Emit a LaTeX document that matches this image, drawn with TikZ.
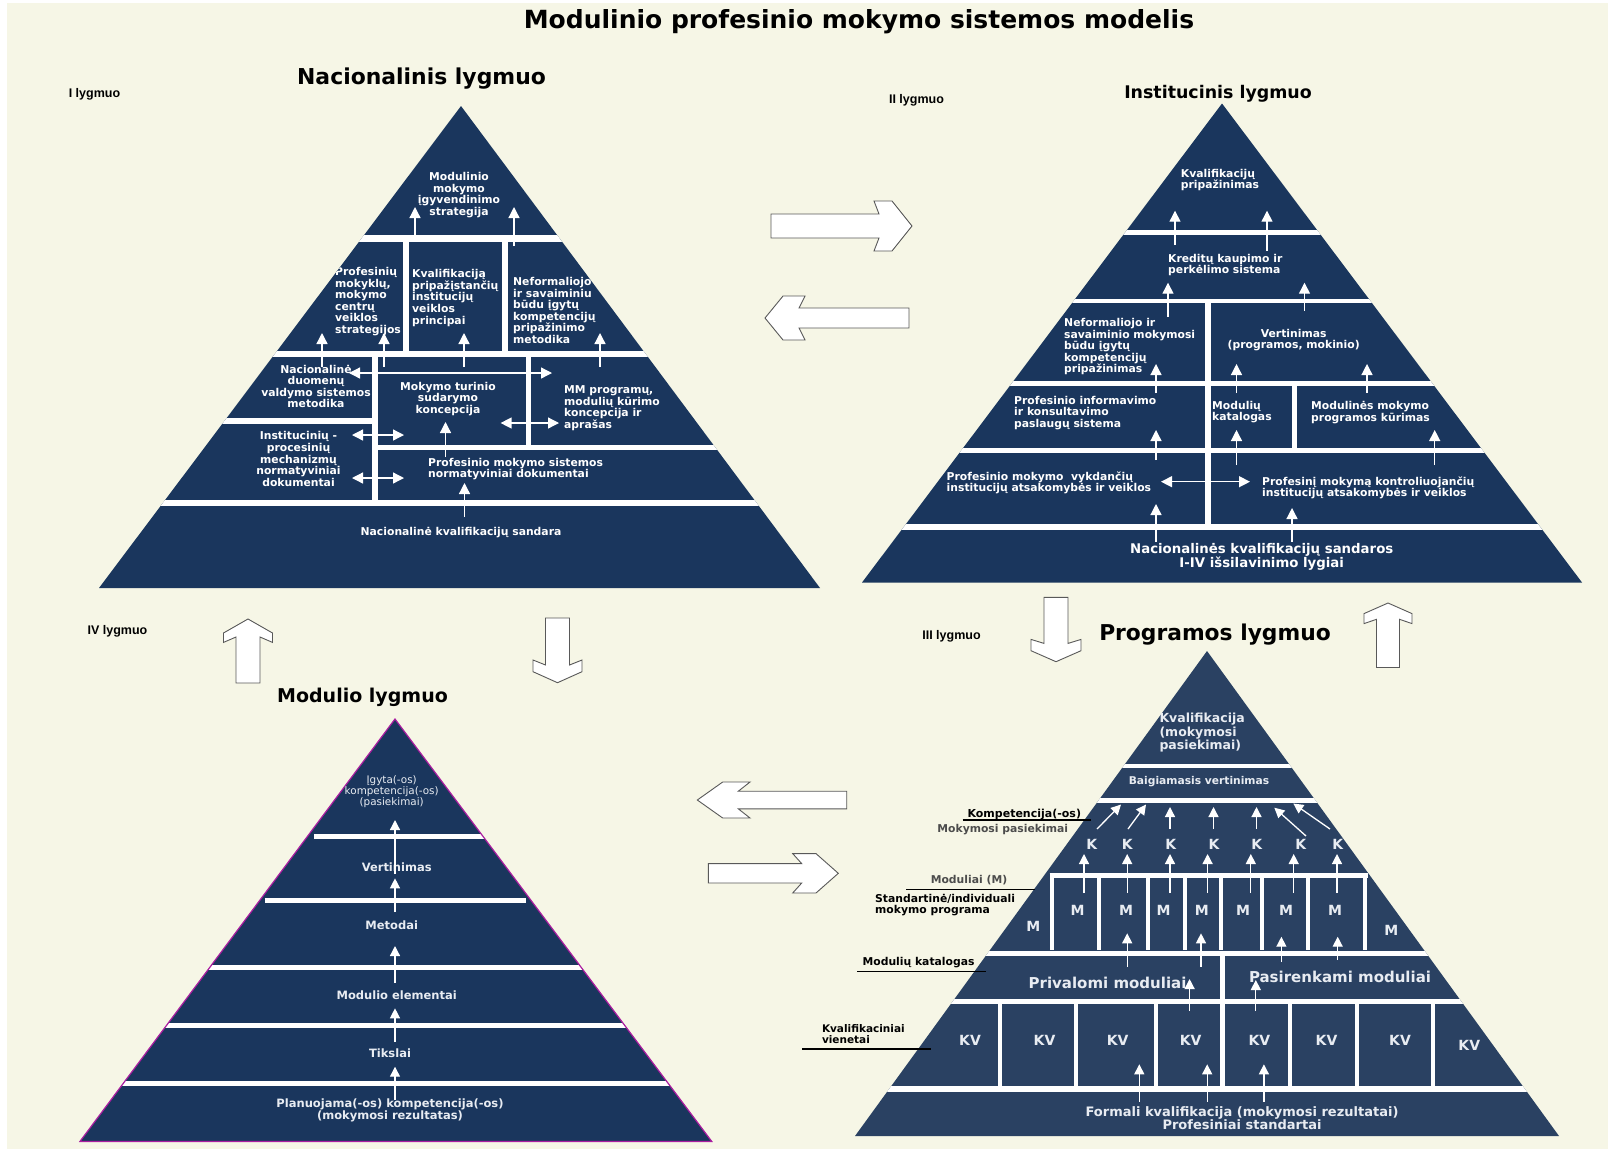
\documentclass[tikz,border=0pt]{standalone}
\usepackage{fontspec}
\setmainfont{DejaVu Sans}
\newfontfamily\labfont{Liberation Sans}
\usetikzlibrary{arrows.meta}

\definecolor{cream}{RGB}{246,246,230}
\definecolor{navy}{RGB}{26,54,93}
\definecolor{slate}{RGB}{42,65,98}
\definecolor{pale}{RGB}{232,236,242}
\definecolor{pyredge}{RGB}{170,30,160}

\tikzset{
  ptext/.style={text=white,inner sep=0pt,font=\bfseries\fontsize{10.8}{11.6}\selectfont},
  ltext/.style={ptext,align=left,anchor=west},
  ctext/.style={ptext,align=center},
  mtext/.style={text=pale,inner sep=0pt,align=center,font=\bfseries\fontsize{11.5}{12.4}\selectfont},
  blab/.style={inner sep=0pt,align=left,font=\bfseries\fontsize{10.8}{11}\selectfont},
  head/.style={inner sep=0pt,font=\bfseries\fontsize{#1}{#1}\selectfont},
  lvl/.style={inner sep=0pt,font=\labfont\bfseries\fontsize{12.5}{14}\selectfont},
  wbar/.style={white,line width=#1},
  wbar/.default=5pt,
  warr/.style={white,line width=1.3pt,-{Triangle[width=11pt,length=11pt]}},
  wdarr/.style={white,line width=1.3pt,{Triangle[width=11pt,length=11pt]}-{Triangle[width=11pt,length=11pt]}},
  parr/.style={white,line width=1.3pt,-{Triangle[width=10pt,length=10pt]}},
  bigarr/.style={fill=white,draw=black!65,line width=0.9pt,line join=miter}
}

\newcommand{\bigarrow}[9]{%
  \draw[bigarr,shift={(#1,#2)},rotate=#3] (0,0) -- (-#7,#5) -- (-#8,#5) -- (-#9,#6)
    -- (-#4,#6) -- (-#4,-#6) -- (-#9,-#6) -- (-#8,-#5) -- (-#7,-#5) -- cycle;}

\begin{document}
\begin{tikzpicture}[x=1pt,y=-1pt]
\fill[white] (0,0) rectangle (1608,1149);
\fill[cream] (7,3) rectangle (1608,1149);

\node[head=25] (title) at (859,22) {Modulinio profesinio mokymo sistemos modelis};
\node[head=21.9] (natname) at (421.5,79) {Nacionalinis lygmuo};
\node[head=17.4] (instname) at (1218,93.5) {Institucinis lygmuo};
\node[head=19] (modname) at (362.5,697) {Modulio lygmuo};
\node[head=21.8] (progname) at (1215,635) {Programos lygmuo};
\node[lvl] (lvl1) at (94.5,94.5) {I lygmuo};
\node[lvl] (lvl2) at (916.5,100.5) {II lygmuo};
\node[lvl] (lvl3) at (951.5,636) {III lygmuo};
\node[lvl] (lvl4) at (117.5,631) {IV lygmuo};

\bigarrow{912}{226}{0}{141}{25}{12}{20}{38}{33}
\bigarrow{765}{318}{180}{144}{22}{10}{18}{40}{34}
\bigarrow{248}{619}{90}{64}{24.5}{12}{14}{23.4}{18}
\bigarrow{557.5}{682.7}{-90}{64.7}{24.5}{12}{11}{22.7}{17.7}
\bigarrow{1056}{661.7}{-90}{64.4}{25}{12}{11}{22.3}{18.3}
\bigarrow{1388}{603}{90}{64.5}{24}{11.5}{10.6}{20.6}{16.3}
\bigarrow{697.3}{800}{180}{149.4}{18}{8.8}{25.4}{52.7}{41}
\bigarrow{838.3}{873.3}{0}{130}{19.7}{9.7}{22.3}{45.6}{36.6}

% Nacionalinis lygmuo
\fill[navy] (461,106) -- (820,588) -- (99,588) -- cycle;
\begin{scope}
\clip (461,106) -- (820,588) -- (99,588) -- cycle;
\draw[wbar=7pt] (340,238.5) -- (580,238.5);
\draw[wbar=6pt] (406,238) -- (406,354);
\draw[wbar=6pt] (505,238) -- (505,354);
\draw[wbar=6pt] (260,354) -- (660,354);
\draw[wbar=6pt] (374.6,354) -- (374.6,503);
\draw[wbar] (528.5,354) -- (528.5,447);
\draw[wbar=6pt] (200,420.5) -- (374.6,420.5);
\draw[wbar] (374.6,447) -- (740,447);
\draw[wbar=6pt] (140,503) -- (790,503);
\node[ctext] (nat1) at (459,195) {Modulinio\\mokymo\\įgyvendinimo\\strategija};
\node[ltext] (nat2) at (335,301.5) {Profesinių\\mokyklų,\\mokymo\\centrų\\veiklos\\strategijos};
\node[ltext] (nat3) at (412,298) {Kvalifikaciją\\pripažįstančių\\institucijų\\veiklos\\principai};
\node[ltext] (nat4) at (513,310.5) {Neformaliojo\\ir savaiminiu\\būdu įgytų\\kompetencijų\\pripažinimo\\metodika};
\node[ctext] (nat5) at (316,386.5) {Nacionalinė\\duomenų\\valdymo sistemos\\metodika};
\node[ctext] (nat6) at (448,399) {Mokymo turinio\\sudarymo\\koncepcija};
\node[ltext] (nat7) at (564,408) {MM programų,\\modulių kūrimo\\koncepcija ir\\aprašas};
\node[ctext] (nat8) at (298.5,459) {Institucinių -\\procesinių\\mechanizmų\\normatyviniai\\dokumentai};
\node[ltext] (nat9) at (428,469) {Profesinio mokymo sistemos\\normatyviniai dokumentai};
\node[ctext] (nat10) at (461,533) {Nacionalinė kvalifikacijų sandara};
\end{scope}
\draw[warr] (415,238) -- (415,207);
\draw[warr] (514,246) -- (514,207);
\foreach \x in {322,384,464,600}
  \draw[warr] (\x,367) -- (\x,333);
\draw[warr] (445.5,457) -- (445.5,422);
\draw[warr] (464.5,517) -- (464.5,483);
\draw[wdarr] (349,373) -- (552,373);
\draw[wdarr] (500.6,423) -- (559,423);
\draw[wdarr] (352,435) -- (404,435);
\draw[wdarr] (352,478) -- (404,478);

% Institucinis lygmuo
\fill[navy] (1222,103.5) -- (1582,582.5) -- (862,582.5) -- cycle;
\begin{scope}
\clip (1222,103.5) -- (1582,582.5) -- (862,582.5) -- cycle;
\draw[wbar] (1100,232) -- (1340,232);
\draw[wbar=4.5pt] (1050,301) -- (1400,301);
\draw[wbar=6pt] (1207.5,301) -- (1207.5,527);
\draw[wbar] (990,383.3) -- (1460,383.3);
\draw[wbar] (1294,383) -- (1294,450);
\draw[wbar] (940,450) -- (1510,450);
\draw[wbar=6pt] (880,527.3) -- (1570,527.3);
\node[ltext] (inst1) at (1180.7,180) {Kvalifikacijų\\pripažinimas};
\node[ltext] (inst2) at (1168,265) {Kreditų kaupimo ir\\perkėlimo sistema};
\node[ltext] (inst3) at (1064,346.7) {Neformaliojo ir\\savaiminio mokymosi\\būdu įgytų\\kompetencijų\\pripažinimas};
\node[ctext] (inst4) at (1293.7,340) {Vertinimas\\(programos, mokinio)};
\node[ltext] (inst5) at (1014,413) {Profesinio informavimo\\ir konsultavimo\\paslaugų sistema};
\node[ltext] (inst6) at (1212,412) {Modulių\\katalogas};
\node[ltext] (inst7) at (1311,412.7) {Modulinės mokymo\\programos kūrimas};
\node[ltext] (inst8) at (946.5,482.7) {Profesinio mokymo\ \ vykdančių\\institucijų atsakomybės ir veiklos};
\node[ltext] (inst9) at (1262,488) {Profesinį mokymą kontroliuojančių\\institucijų atsakomybės ir veiklos};
\node[ctext,font=\bfseries\fontsize{13.3}{14}\selectfont] (inst10) at (1261.7,557) {Nacionalinės kvalifikacijų sandaros\\I-IV išsilavinimo lygiai};
\end{scope}
\draw[warr] (1175,245) -- (1175,210.7);
\draw[warr] (1267,250.7) -- (1267,210.7);
\draw[warr] (1168,316.7) -- (1168,282.7);
\draw[warr] (1304.5,310.7) -- (1304.5,282.7);
\foreach \x in {1156,1236.5,1367}
  \draw[warr] (\x,393) -- (\x,364);
\draw[warr] (1156,460) -- (1156,430);
\draw[warr] (1236.5,465) -- (1236.5,430);
\draw[warr] (1434.7,465) -- (1434.7,430);
\draw[wdarr] (1161,481.7) -- (1250,481.7);
\draw[warr] (1156,541.7) -- (1156,504);
\draw[warr] (1292,541.7) -- (1292,508);

% Modulio lygmuo
\fill[navy] (395,719) -- (711.7,1141.4) -- (80,1141.4) -- cycle;
\begin{scope}
\clip (395,719) -- (711.7,1141.4) -- (80,1141.4) -- cycle;
\draw[wbar=4.5pt] (314,836.3) -- (490,836.3);
\draw[wbar] (264.7,900.8) -- (526,900.8);
\foreach \y in {967.7,1025,1083}
  \draw[wbar] (60,\y) -- (730,\y);
\end{scope}
\draw[pyredge,line width=1.2pt] (395,719) -- (711.7,1141.4) -- (80,1141.4) -- cycle;
\node[mtext,font=\fontsize{10.4}{10}\selectfont] (mod1) at (391.7,792) {Įgyta(-os)\\kompetencija(-os)\\(pasiekimai)};
\node[mtext] (mod2) at (396.7,867.3) {Vertinimas};
\node[mtext] (mod3) at (391.7,925) {Metodai};
\node[mtext] (mod4) at (396.7,995) {Modulio elementai};
\node[mtext] (mod5) at (390,1053.3) {Tikslai};
\node[mtext] (mod6) at (390,1110.5) {Planuojama(-os) kompetencija(-os)\\(mokymosi rezultatas)};
\draw[parr] (395,1100) -- (395,1066.7);
\draw[parr] (395,1042) -- (395,1008.3);
\draw[parr] (395,983) -- (395,946);
\draw[parr] (395,912) -- (395,878.3);
\draw[parr] (395,874) -- (395,820);

% Programos lygmuo
\fill[slate] (1207,651) -- (1559,1136) -- (855,1136) -- cycle;
\begin{scope}
\clip (1207,651) -- (1559,1136) -- (855,1136) -- cycle;
\draw[wbar=4pt] (1100,766) -- (1310,766);
\draw[wbar] (1080,800.8) -- (1330,800.8);
\draw[wbar=4.5pt] (1049.5,875.3) -- (1368.3,875.3);
\foreach \x in {1052,1099,1148,1185,1221,1262,1308,1365}
  \draw[wbar=4.5pt] (\x,875) -- (\x,950);
\draw[wbar] (970,953) -- (1440,953);
\draw[wbar=5.5pt] (1222.7,953) -- (1222.7,1088.8);
\draw[wbar] (930,1001.7) -- (1480,1001.7);
\foreach \x in {1000,1076,1156,1290,1357,1433}
  \draw[wbar=4.5pt] (\x,1001.7) -- (\x,1088.8);
\draw[wbar=5.5pt] (870,1088.8) -- (1545,1088.8);
\end{scope}
\node[mtext,align=left,anchor=west,font=\bfseries\fontsize{12.5}{13.7}\selectfont] (prog1) at (1159.3,732.7) {Kvalifikacija\\(mokymosi\\pasiekimai)};
\node[mtext,font=\bfseries\fontsize{10.7}{12}\selectfont] (prog2) at (1199,782) {Baigiamasis vertinimas};
\foreach \x [count=\i] in {1091.7,1127.3,1170.7,1214,1256.7,1300.7,1337.7}
  \node[mtext,font=\bfseries\fontsize{14}{14}\selectfont] (k\i) at (\x,844) {K};
\foreach \x [count=\i] in {1077.5,1126,1163.6,1201.8,1243,1286,1335}
  \node[mtext,font=\bfseries\fontsize{14}{14}\selectfont] (m\i) at (\x,910) {M};
\node[mtext,font=\bfseries\fontsize{14}{14}\selectfont] (mleft) at (1033.4,926) {M};
\node[mtext,font=\bfseries\fontsize{14}{14}\selectfont] (mright) at (1391.3,930) {M};
\node[mtext,font=\bfseries\fontsize{15}{15}\selectfont] (priv) at (1107.5,982.5) {Privalomi moduliai};
\node[mtext,font=\bfseries\fontsize{15}{15}\selectfont] (pasir) at (1340,977) {Pasirenkami moduliai};
\foreach \x/\y [count=\i] in {970/1040.7,1044.5/1040.7,1117.6/1040.7,1190.6/1040.7,1259.4/1040.7,1326.5/1040.7,1400/1040.7,1469.3/1045.7}
  \node[mtext,font=\bfseries\fontsize{14}{14}\selectfont] (kv\i) at (\x,\y) {KV};
\node[mtext,font=\bfseries\fontsize{13}{13.4}\selectfont] (prog3) at (1242,1118.4) {Formali kvalifikacija (mokymosi rezultatai)\\Profesiniai standartai};
\foreach \a/\b/\c/\d in {1097/829/1121/804.5,1128/829/1146/804.5,1170/829/1170/807,1213.5/829/1213.5/807,1256.5/829/1256.5/807,1306/836/1274.3/807.7,1330/829/1293.3/803.5}
  \draw[parr] (\a,\b) -- (\c,\d);
\foreach \x in {1084,1127.2,1170,1207.6,1250.8,1293.7,1337}
  \draw[parr] (\x,893) -- (\x,854);
\draw[parr] (1127.2,966.7) -- (1127.2,933.3);
\draw[parr] (1201,966.7) -- (1201,933.3);
\draw[parr] (1281.4,962) -- (1281.4,936.7);
\draw[parr] (1337.7,960) -- (1337.7,936.7);
\draw[parr] (1189.6,1011) -- (1189.6,979);
\draw[parr] (1255.8,1011) -- (1255.8,980);
\foreach \x in {1139.3,1207.2,1263.9}
  \draw[parr] (\x,1101.7) -- (\x,1064.3);

\node[blab,font=\bfseries\fontsize{11}{11}\selectfont] (komp) at (1024.3,814) {Kompetencija(-os)};
\draw[line width=1.2pt] (962.7,820) -- (1090.7,820);
\node[blab,text=black!70] (mokp) at (1002.7,829.3) {Mokymosi pasiekimai};
\node[blab,text=black!70] (modm) at (969,880) {Moduliai (M)};
\draw[line width=1.2pt] (906.4,889.3) -- (1034.6,889.3);
\node[blab,anchor=west] (stand) at (875,905.5) {Standartinė/individuali\\mokymo programa};
\node[blab,anchor=west] (katal) at (862.4,962.3) {Modulių katalogas};
\draw[line width=1.2pt] (857.4,971.7) -- (985.6,971.7);
\node[blab,anchor=west,font=\bfseries\fontsize{10.5}{11.7}\selectfont] (kvien) at (821.8,1034.2) {Kvalifikaciniai\\vienetai};
\draw[line width=1.2pt] (802.4,1049) -- (930.9,1049);
\end{tikzpicture}
\end{document}
